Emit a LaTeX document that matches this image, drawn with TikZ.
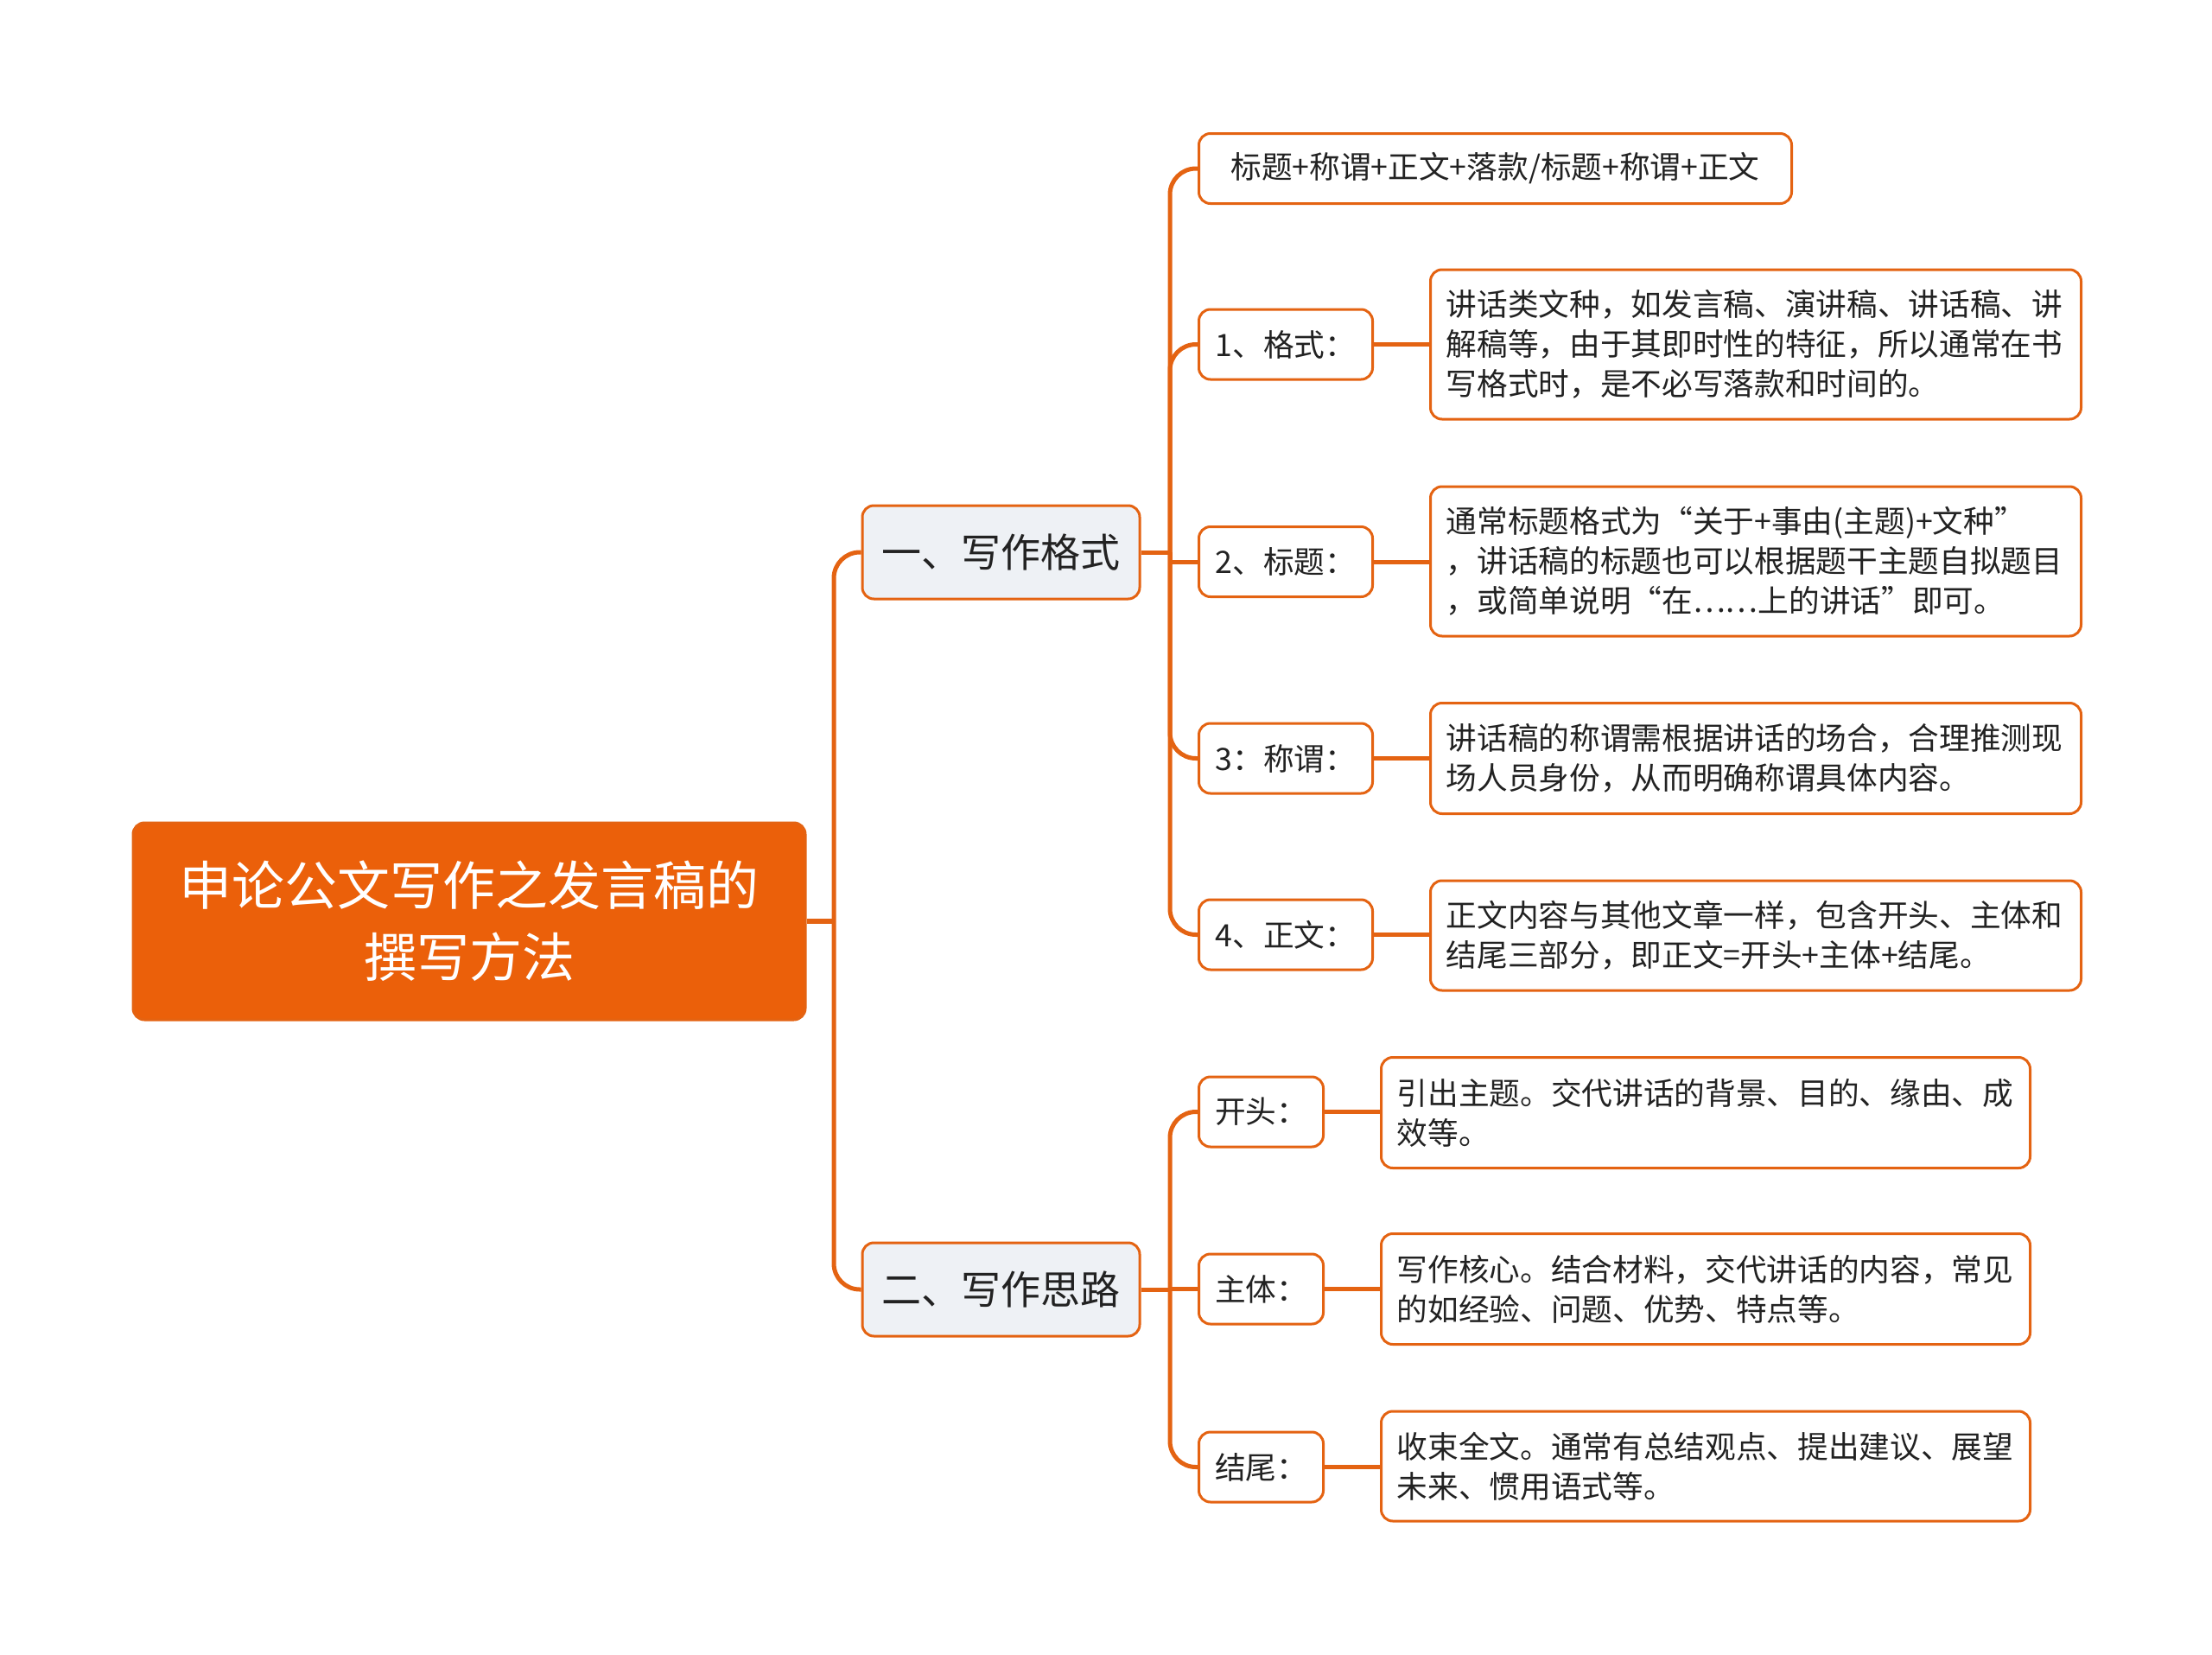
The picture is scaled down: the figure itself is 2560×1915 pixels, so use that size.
\documentclass[tikz,border=0pt]{standalone}
\usepackage{fontspec}
\setmainfont{Noto Sans CJK SC}
\definecolor{org}{RGB}{228,99,18}
\definecolor{rootfill}{RGB}{235,96,10}
\definecolor{lonefill}{RGB}{238,241,245}
\definecolor{txt}{RGB}{34,34,34}
\tikzset{
  rootbox/.style={draw=org, line width=0.9pt, fill=rootfill, rounded corners=4pt,
    text=white, align=center, minimum width=233.4pt, minimum height=68.4pt,
    font=\fontsize{18.3pt}{24.9pt}\selectfont, inner sep=0pt},
  lonebox/.style={draw=org, line width=0.9pt, fill=lonefill, rounded corners=4pt,
    text=txt, minimum width=96.3pt, minimum height=32.4pt,
    font=\fontsize{13.8pt}{16pt}\selectfont, inner sep=0pt},
  keybox/.style={draw=org, line width=0.9pt, fill=white, rounded corners=4pt,
    text=txt, anchor=west, minimum height=24.3pt,
    font=\fontsize{10.7pt}{13.8pt}\selectfont, inner sep=0pt},
  detbox/.style={draw=org, line width=0.9pt, fill=white, rounded corners=4pt,
    text=txt, anchor=west, align=left, text width=214.9pt, inner xsep=5.5pt, inner ysep=0pt,
    font=\fontsize{10.7pt}{13.8pt}\selectfont},
  detboxb/.style={detbox, text width=214.3pt},
  lk/.style={draw=org, line width=1.5pt},
  lkroot/.style={draw=org, line width=2pt},
}
\begin{document}
\begin{tikzpicture}[x=0.3pt,y=-0.3pt]
\useasboundingbox (0,0) rectangle (2560,1915);

% root
\node[rootbox] (root) at (543,1066) {申论公文写作之发言稿的\\撰写方法};

% level one
\node[lonebox] (la) at (1158.5,639) {一、写作格式};
\node[lonebox] (lb) at (1158.5,1492) {二、写作思路};

% level two (group one)
\node[keybox, minimum width=205.8pt] (k0) at (1386,195) {标题+称谓+正文+落款/标题+称谓+正文};
\node[keybox, minimum width=60.3pt] (k1) at (1386,398.5) {1、格式：};
\node[keybox, minimum width=60.3pt] (k2) at (1386,650) {2、标题：};
\node[keybox, minimum width=60.3pt] (k3) at (1386,877.5) {3：称谓：};
\node[keybox, minimum width=60.3pt] (k4) at (1386,1081.5) {4、正文：};

% level two (group two)
\node[keybox, minimum width=43.2pt] (b1) at (1386,1286.5) {开头：};
\node[keybox, minimum width=43.2pt] (b2) at (1386,1491.5) {主体：};
\node[keybox, minimum width=43.2pt] (b3) at (1386,1697.5) {结尾：};

% details (group one)
\node[detbox, minimum height=51.9pt] (d1) at (1654,398.5)
  {讲话类文种，如发言稿、演讲稿、讲话稿、讲\\解稿等，由于其即时性的特征，所以通常在书\\写格式时，是不必写落款和时间的。};
\node[detbox, minimum height=51.9pt] (d2) at (1654,649.5)
  {通常标题格式为“关于+事由(主题)+文种”\\，讲话稿的标题也可以根据题干主题自拟题目\\，或简单说明“在……上的讲话”即可。};
\node[detbox, minimum height=38.4pt] (d3) at (1654,877.5)
  {讲话稿的称谓需根据讲话的场合，合理推测现\\场人员身份，从而明确称谓具体内容。};
\node[detbox, minimum height=38.1pt] (d4) at (1654,1082.5)
  {正文内容与其他文章一样，包含开头、主体和\\结尾三部分，即正文=开头+主体+结尾。};

% details (group two)
\node[detboxb, minimum height=38.4pt] (e1) at (1597,1287.5)
  {引出主题。交代讲话的背景、目的、缘由、成\\效等。};
\node[detboxb, minimum height=38.4pt] (e2) at (1597,1491.5)
  {写作核心。结合材料，交代讲话的内容，常见\\的如经验、问题、优势、特点等。};
\node[detboxb, minimum height=38.1pt] (e3) at (1597,1696.5)
  {收束全文。通常有总结观点、提出建议、展望\\未来、惯用语式等。};

% junction points
\coordinate (t1) at (965,1066);
\coordinate (t2) at (1354,639);
\coordinate (t3) at (1354,1492);

% connectors root -> level one
\draw[lkroot] (root.east) -- (t1);
\draw[lk, rounded corners=9pt] (t1) |- (la.west);
\draw[lk, rounded corners=9pt] (t1) |- (lb.west);

% level one -> level two
\draw[lk] (la.east) -- (t2);
\draw[lk, rounded corners=9pt] (t2) |- (k0.west);
\draw[lk, rounded corners=9pt] (t2) |- (k1.west);
\draw[lk] (t2) |- (k2.west);
\draw[lk, rounded corners=9pt] (t2) |- (k3.west);
\draw[lk, rounded corners=9pt] (t2) |- (k4.west);

\draw[lk] (lb.east) -- (t3);
\draw[lk, rounded corners=9pt] (t3) |- (b1.west);
\draw[lk] (t3) |- (b2.west);
\draw[lk, rounded corners=9pt] (t3) |- (b3.west);

% level two -> details
\draw[lk] (k1.east) -- (k1.east -| d1.west);
\draw[lk] (k2.east) -- (k2.east -| d2.west);
\draw[lk] (k3.east) -- (k3.east -| d3.west);
\draw[lk] (k4.east) -- (k4.east -| d4.west);
\draw[lk] (b1.east) -- (b1.east -| e1.west);
\draw[lk] (b2.east) -- (b2.east -| e2.west);
\draw[lk] (b3.east) -- (b3.east -| e3.west);
\end{tikzpicture}
\end{document}
